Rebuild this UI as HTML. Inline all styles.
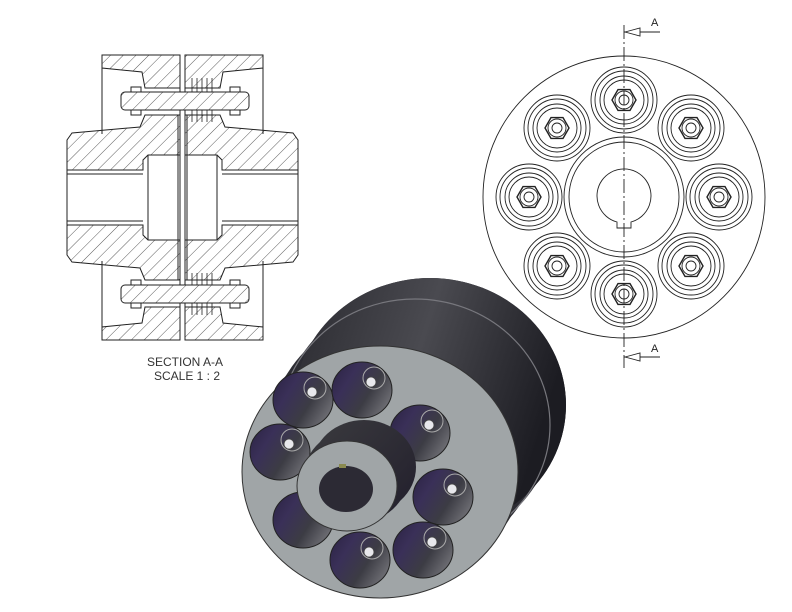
<!DOCTYPE html>
<html><head><meta charset="utf-8"><style>
html,body{margin:0;padding:0;background:#fff;overflow:hidden;}
svg{display:block;}
</style></head><body>
<svg width="792" height="612" viewBox="0 0 792 612" xmlns="http://www.w3.org/2000/svg">
<defs>
<pattern id="h" patternUnits="userSpaceOnUse" width="9" height="9" patternTransform="rotate(45)">
<rect width="9" height="9" fill="#fff"/><line x1="0" y1="0" x2="0" y2="9" stroke="#333" stroke-width="0.8"/>
</pattern>
<linearGradient id="body" x1="0" y1="0" x2="1" y2="0.3">
<stop offset="0" stop-color="#2a2a30"/><stop offset="0.5" stop-color="#4a4a50"/><stop offset="1" stop-color="#1c1c22"/>
</linearGradient>
<linearGradient id="hole" x1="0" y1="0" x2="1" y2="0.6">
<stop offset="0" stop-color="#2a2242"/><stop offset="0.35" stop-color="#3a3058"/><stop offset="0.7" stop-color="#3c3c44"/><stop offset="1" stop-color="#6a6a70"/>
</linearGradient>
<linearGradient id="hub" x1="0" y1="0" x2="1" y2="1">
<stop offset="0" stop-color="#3a3a3e"/><stop offset="1" stop-color="#221f2c"/>
</linearGradient>
<g id="b" fill="none" stroke="#222" stroke-width="0.9">
<circle r="33"/><circle r="29"/><circle r="24"/><circle r="20"/>
<polygon points="12,0 6,10.4 -6,10.4 -12,0 -6,-10.4 6,-10.4" stroke-width="1.4"/>
<circle r="9"/><circle r="5"/>
</g>
</defs>

<!-- SECTION VIEW -->
<g stroke="#222" stroke-width="1" fill="url(#h)">
<polygon points="102,55 180,55 180,88 145,88 142,72 102,68"/>
<polygon points="263,55 185,55 185,88 220,88 223,72 263,68"/>
<polygon points="102,340 180,340 180,307 145,307 142,323 102,327"/>
<polygon points="263,340 185,340 185,307 220,307 223,323 263,327"/>
<polygon points="67,140 72,133 140,127 145,115 180,115 180,155 148,155 143,160 143,170 67,170"/>
<polygon points="298,140 293,133 225,127 220,115 185,115 185,155 217,155 222,160 222,170 298,170"/>
<polygon points="67,255 72,262 140,268 145,280 180,280 180,240 148,240 143,235 143,225 67,225"/>
<polygon points="298,255 293,262 225,268 220,280 185,280 185,240 217,240 222,235 222,225 298,225"/>
</g>
<g stroke="#222" stroke-width="1" fill="none">
<line x1="102" y1="55" x2="102" y2="134"/><line x1="102" y1="261" x2="102" y2="340"/>
<line x1="263" y1="55" x2="263" y2="134"/><line x1="263" y1="261" x2="263" y2="340"/>
<line x1="180" y1="55" x2="180" y2="340"/><line x1="185" y1="55" x2="185" y2="340"/>
<line x1="67" y1="170" x2="67" y2="225"/><line x1="298" y1="170" x2="298" y2="225"/>
<line x1="67" y1="174" x2="143" y2="174"/><line x1="67" y1="221" x2="143" y2="221"/>
<line x1="222" y1="174" x2="298" y2="174"/><line x1="222" y1="221" x2="298" y2="221"/>
<line x1="148" y1="155" x2="148" y2="240"/><line x1="217" y1="155" x2="217" y2="240"/>
<line x1="178" y1="115" x2="178" y2="280"/><line x1="187" y1="115" x2="187" y2="280"/>
</g>
<g stroke="#222" stroke-width="1" fill="#fff">
<rect x="121" y="92" width="128" height="18" rx="4" fill="url(#h)"/>
<rect x="121" y="285" width="128" height="18" rx="4" fill="url(#h)"/>
<rect x="131" y="87" width="10" height="5"/><rect x="131" y="110" width="10" height="5"/>
<rect x="230" y="87" width="10" height="5"/><rect x="230" y="110" width="10" height="5"/>
<rect x="131" y="280" width="10" height="5"/><rect x="131" y="303" width="10" height="5"/>
<rect x="230" y="280" width="10" height="5"/><rect x="230" y="303" width="10" height="5"/>
</g>
<g stroke="#222" stroke-width="0.8">
<line x1="192" y1="78" x2="192" y2="92"/><line x1="197" y1="78" x2="197" y2="92"/><line x1="202" y1="78" x2="202" y2="92"/><line x1="207" y1="78" x2="207" y2="92"/><line x1="212" y1="78" x2="212" y2="92"/>
<line x1="192" y1="110" x2="192" y2="122"/><line x1="197" y1="110" x2="197" y2="122"/><line x1="202" y1="110" x2="202" y2="122"/><line x1="207" y1="110" x2="207" y2="122"/><line x1="212" y1="110" x2="212" y2="122"/>
<line x1="192" y1="273" x2="192" y2="285"/><line x1="197" y1="273" x2="197" y2="285"/><line x1="202" y1="273" x2="202" y2="285"/><line x1="207" y1="273" x2="207" y2="285"/><line x1="212" y1="273" x2="212" y2="285"/>
<line x1="192" y1="303" x2="192" y2="315"/><line x1="197" y1="303" x2="197" y2="315"/><line x1="202" y1="303" x2="202" y2="315"/><line x1="207" y1="303" x2="207" y2="315"/><line x1="212" y1="303" x2="212" y2="315"/>
</g>
<text x="185" y="366" font-family="Liberation Sans, sans-serif" font-size="12" fill="#333" text-anchor="middle">SECTION A-A</text>
<text x="187" y="380" font-family="Liberation Sans, sans-serif" font-size="12" fill="#333" text-anchor="middle">SCALE 1 : 2</text>

<!-- FRONT VIEW -->
<g stroke="#222" stroke-width="0.9" fill="none">
<circle cx="624" cy="197" r="141"/>
<circle cx="624" cy="197" r="60"/>
<circle cx="624" cy="197" r="55"/>
<path d="M617,222 A27,27 0 1 1 631,222 L631,228 L617,228 Z"/>
<line x1="624" y1="25" x2="624" y2="368" stroke-dasharray="14,3,2,3"/>
<line x1="624" y1="32" x2="660" y2="32"/>
<line x1="624" y1="357" x2="660" y2="357"/>
<polygon points="625,32 640,28 640,36" fill="#fff"/>
<polygon points="625,357 640,353 640,361" fill="#fff"/>
</g>
<use href="#b" x="624" y="100"/>
<use href="#b" x="691" y="128"/>
<use href="#b" x="719" y="197"/>
<use href="#b" x="691" y="266"/>
<use href="#b" x="624" y="294"/>
<use href="#b" x="557" y="266"/>
<use href="#b" x="529" y="197"/>
<use href="#b" x="557" y="128"/>
<text x="651" y="26" font-family="Liberation Sans, sans-serif" font-size="11" fill="#222">A</text>
<text x="651" y="352" font-family="Liberation Sans, sans-serif" font-size="11" fill="#222">A</text>

<!-- 3D VIEW -->
<g fill="#2d2d34">
<ellipse cx="430" cy="405" rx="136" ry="127"/>
<ellipse cx="418" cy="421" rx="136" ry="127"/>
<ellipse cx="405" cy="437" rx="136" ry="127"/>
<ellipse cx="392" cy="455" rx="136" ry="127"/>
</g>
<ellipse cx="430" cy="405" rx="136" ry="127" fill="url(#body)"/>
<ellipse cx="415" cy="425" rx="135" ry="126" fill="none" stroke="#77777d" stroke-width="1.2"/>
<ellipse cx="380" cy="472" rx="138" ry="126" fill="#a0a5a7" stroke="#333" stroke-width="1"/>
<g fill="url(#hole)" stroke="#222" stroke-width="1">
<ellipse cx="303" cy="400" rx="30" ry="28"/>
<ellipse cx="362" cy="390" rx="30" ry="28"/>
<ellipse cx="420" cy="433" rx="30" ry="28"/>
<ellipse cx="443" cy="497" rx="30" ry="28"/>
<ellipse cx="423" cy="550" rx="30" ry="28"/>
<ellipse cx="360" cy="560" rx="30" ry="28"/>
<ellipse cx="303" cy="520" rx="30" ry="28"/>
<ellipse cx="280" cy="452" rx="30" ry="28"/>
</g>
<g fill="none" stroke="#aaa" stroke-width="1">
<circle cx="315" cy="388" r="11"/><circle cx="374" cy="378" r="11"/><circle cx="432" cy="421" r="11"/>
<circle cx="455" cy="485" r="11"/><circle cx="435" cy="538" r="11"/><circle cx="372" cy="548" r="11"/>
<circle cx="292" cy="440" r="11"/>
</g>
<g fill="#e8e8ec" stroke="#444" stroke-width="0.8">
<circle cx="312" cy="392" r="5"/><circle cx="371" cy="382" r="5"/><circle cx="429" cy="425" r="5"/>
<circle cx="452" cy="489" r="5"/><circle cx="432" cy="542" r="5"/><circle cx="369" cy="552" r="5"/>
<circle cx="289" cy="444" r="5"/>
</g>
<!-- hub -->
<ellipse cx="364" cy="467" rx="52" ry="47" fill="url(#hub)"/>
<ellipse cx="356" cy="476" rx="52" ry="47" fill="url(#hub)"/>
<ellipse cx="347" cy="486" rx="50" ry="45" fill="#a0a5a7" stroke="#333" stroke-width="1"/>
<ellipse cx="346" cy="489" rx="27" ry="23" fill="#2c2a34"/>
<rect x="339" y="464" width="7" height="4" fill="#8a8a50"/>
</svg>
</body></html>
